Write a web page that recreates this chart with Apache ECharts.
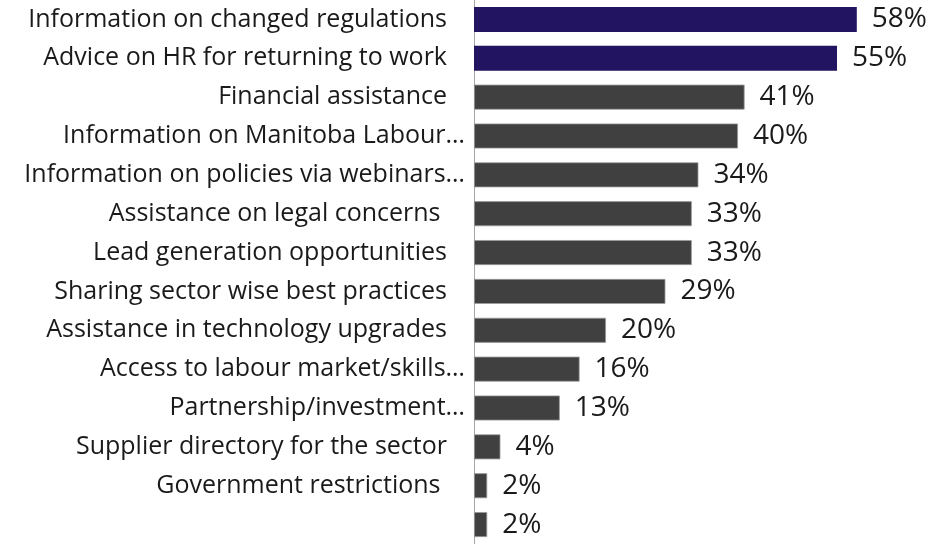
<!DOCTYPE html>
<html>
<head>
<meta charset="utf-8">
<script src="https://cdn.jsdelivr.net/npm/echarts@6/dist/echarts.min.js"></script>
<style>
html,body{margin:0;padding:0;background:#fff;}
#chart{width:929px;height:544px;}
</style>
</head>
<body>
<div id="chart"></div>
<script>
const categories = [
  "Information on changed regulations",
  "Advice on HR for returning to work",
  "Financial assistance",
  "Information on Manitoba Labour…",
  "Information on policies via webinars…",
  "Assistance on legal concerns ",
  "Lead generation opportunities",
  "Sharing sector wise best practices",
  "Assistance in technology upgrades",
  "Access to labour market/skills…",
  "Partnership/investment…",
  "Supplier directory for the sector",
  "Government restrictions ",
  ""
];
const values = [58, 55, 41, 40, 34, 33, 33, 29, 20, 16, 13, 4, 2, 2];
const highlighted = [true, true, false, false, false, false, false, false, false, false, false, false, false, false];

const PURPLE = "#231462";
const DARK = "#404040";
const FONT = "Open Sans";

const chart = echarts.init(document.getElementById("chart"));
chart.setOption({
  animation: false,
  backgroundColor: "#fff",
  grid: { left: 474, right: 59, top: -3, bottom: -6, containLabel: false },
  xAxis: {
    type: "value", min: 0, max: 60,
    show: false
  },
  yAxis: {
    type: "category",
    inverse: true,
    data: categories,
    axisLine: { show: true, lineStyle: { color: "#A6A6A6", width: 1 } },
    axisTick: { show: false },
    axisLabel: {
      margin: 9,
      fontFamily: FONT,
      fontSize: 25,
      color: "#1a1a1a",
      formatter: function (v) {
        if (v === "") return "";
        if (v.endsWith("…")) return "{a|" + v + "}";
        return "{a|" + v + "}{p|\u00a0}";
      },
      rich: {
        a: { fontFamily: FONT, fontSize: 25, color: "#1a1a1a" },
        p: { width: 18, fontSize: 25 }
      }
    }
  },
  series: [{
    type: "bar",
    data: values.map((v, i) => ({
      value: v,
      itemStyle: highlighted[i]
        ? { color: PURPLE }
        : { color: DARK, borderColor: "#9a9a9a", borderWidth: 0.8 }
    })),
    barWidth: 25,
    label: {
      show: true,
      position: "right",
      distance: 15,
      formatter: "{c}%",
      fontFamily: FONT,
      fontSize: 28,
      color: "#1a1a1a"
    }
  }]
});
</script>
</body>
</html>
